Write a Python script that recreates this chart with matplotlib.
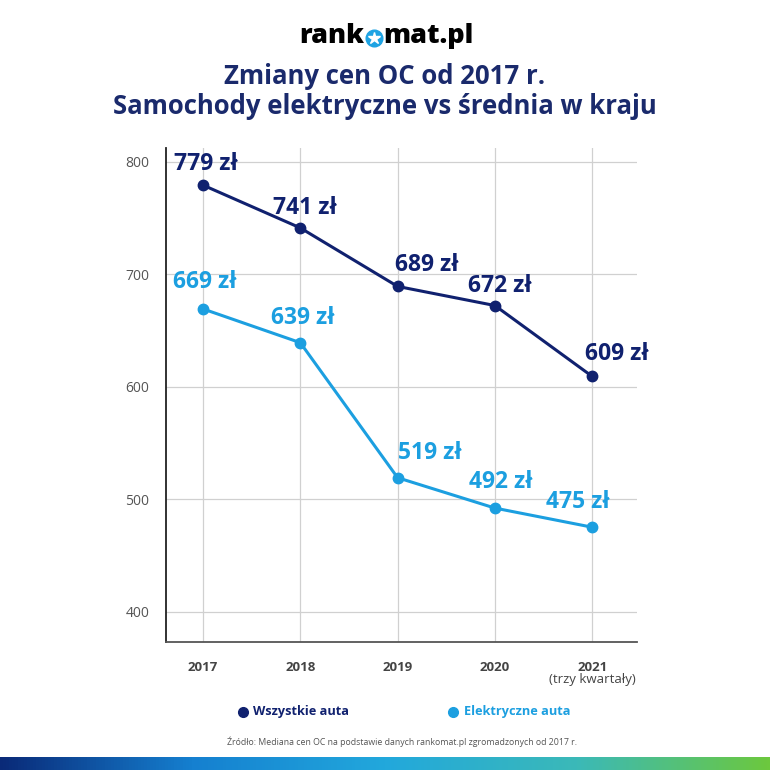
import numpy as np
import matplotlib
matplotlib.use('Agg')
import matplotlib.pyplot as plt
from matplotlib.lines import Line2D
from matplotlib.colors import LinearSegmentedColormap

# Data
years = ['2017', '2018', '2019', '2020', '2021']
all_cars = [779, 741, 689, 672, 609]
electric_cars = [669, 639, 519, 492, 475]
yticks = [400, 500, 600, 700, 800]

# label offsets (pixels) so labels sit like in the original
all_offsets = [(3, 21), (5, 20), (29, 21), (5, 20), (25, 22)]
ele_offsets = [(2, 27), (3, 25), (32, 25), (6, 26), (-14, 25)]

navy = '#10216f'
light_blue = '#1c9fe0'
grid_gray = '#d0d0d0'

plt.rcParams['font.family'] = ['Open Sans', 'DejaVu Sans']

fig = plt.figure(figsize=(7.7, 7.7), dpi=100)
ax = fig.add_axes([166/770, 1 - 642/770, (637-166)/770, (642-148)/770])

x = np.arange(len(years))

ax.plot(x, all_cars, color=navy, lw=2.2, marker='o', ms=7.5, zorder=3)
ax.plot(x, electric_cars, color=light_blue, lw=2.2, marker='o', ms=7.5, zorder=3)

for i, v in enumerate(all_cars):
    ax.annotate(f'{v} zł', (i, v), xytext=all_offsets[i], textcoords='offset pixels',
                ha='center', va='center', fontsize=16.5, fontweight='bold', color=navy, zorder=4)
for i, v in enumerate(electric_cars):
    ax.annotate(f'{v} zł', (i, v), xytext=ele_offsets[i], textcoords='offset pixels',
                ha='center', va='center', fontsize=16.5, fontweight='bold', color=light_blue, zorder=4)

ax.set_xlim(-0.38, 4.46)
ax.set_ylim(373, 812)
ax.set_yticks(yticks)
ax.set_xticks(x)
ax.set_xticklabels(years, fontweight='bold', color='#444444', fontsize=9.5)
ax.tick_params(axis='y', length=0, pad=12, labelsize=10, labelcolor='#555555')
ax.tick_params(axis='x', length=0, pad=14)
ax.grid(True, color=grid_gray, lw=0.9)
ax.set_axisbelow(True)
for s in ['top', 'right']:
    ax.spines[s].set_visible(False)
ax.spines['left'].set_color('#222222')
ax.spines['left'].set_linewidth(1.3)
ax.spines['bottom'].set_color('#555555')
ax.spines['bottom'].set_linewidth(1.3)

ax.text(4, -38/494, '(trzy kwartały)', transform=ax.get_xaxis_transform(),
        ha='center', va='center', fontsize=9.5, color='#444444')

# logo
fig.text(364/770, 1 - 36/770, 'rank', ha='right', va='center', fontsize=19.5,
         fontweight='heavy', color='black')
fig.text(383/770, 1 - 36/770, 'mat.pl', ha='left', va='center', fontsize=19.5,
         fontweight='heavy', color='black')
fig.add_artist(Line2D([373.5/770], [1 - 38/770], marker='o', ms=12, color='#1ea3e3',
                      transform=fig.transFigure))
fig.add_artist(Line2D([373.5/770], [1 - 38/770], marker='*', ms=9, color='white',
                      transform=fig.transFigure))

# title
fig.text(0.5, 1 - 77/770, 'Zmiany cen OC od 2017 r.', ha='center', va='center',
         fontsize=18.5, fontweight='bold', color='#1a2a6c')
fig.text(0.5, 1 - 107/770, 'Samochody elektryczne vs średnia w kraju', ha='center', va='center',
         fontsize=18.5, fontweight='bold', color='#1a2a6c')

# legend (drawn by hand to match positions)
fig.add_artist(Line2D([243/770], [1 - 712/770], marker='o', ms=7, color=navy,
                      transform=fig.transFigure))
fig.text(253/770, 1 - 712/770, 'Wszystkie auta', ha='left', va='center',
         fontsize=9.2, fontweight='bold', color=navy)
fig.add_artist(Line2D([453/770], [1 - 712/770], marker='o', ms=7, color=light_blue,
                      transform=fig.transFigure))
fig.text(464/770, 1 - 712/770, 'Elektryczne auta', ha='left', va='center',
         fontsize=9.2, fontweight='bold', color=light_blue)

# source
fig.text(402/770, 1 - 742/770,
         'Źródło: Mediana cen OC na podstawie danych rankomat.pl zgromadzonych od 2017 r.',
         ha='center', va='center', fontsize=6.3, color='#555555')

# gradient bar at the bottom
bar_ax = fig.add_axes([0, 0, 1, 13/770])
cmap = LinearSegmentedColormap.from_list('bar', ['#0a2a78', '#1580d0', '#22a8dc', '#3bb9b8', '#6cc83e'])
bar_ax.imshow(np.linspace(0, 1, 256).reshape(1, -1), aspect='auto', cmap=cmap)
bar_ax.axis('off')

fig.savefig('out.png', dpi=100)
